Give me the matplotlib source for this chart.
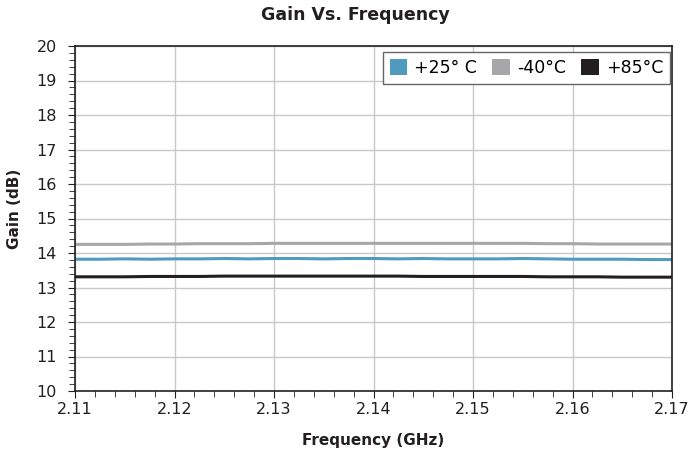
import matplotlib
matplotlib.use("Agg")
import matplotlib.pyplot as plt
from matplotlib.patches import Patch
from matplotlib.ticker import MultipleLocator, FormatStrFormatter

freq_ghz = [2.11, 2.1125, 2.115, 2.1175, 2.12, 2.1225, 2.125, 2.1275, 2.13, 2.1325,
            2.135, 2.1375, 2.14, 2.1425, 2.145, 2.1475, 2.15, 2.1525, 2.155, 2.1575,
            2.16, 2.1625, 2.165, 2.1675, 2.17]
gain_p25 = [13.82, 13.82, 13.83, 13.82, 13.83, 13.83, 13.84, 13.83, 13.84, 13.84,
            13.83, 13.84, 13.84, 13.83, 13.84, 13.83, 13.83, 13.83, 13.84, 13.83,
            13.82, 13.82, 13.82, 13.81, 13.81]
gain_m40 = [14.25, 14.25, 14.25, 14.26, 14.26, 14.27, 14.27, 14.27, 14.28, 14.28,
            14.28, 14.28, 14.28, 14.28, 14.28, 14.28, 14.28, 14.28, 14.28, 14.27,
            14.27, 14.26, 14.26, 14.26, 14.26]
gain_p85 = [13.31, 13.31, 13.31, 13.32, 13.32, 13.32, 13.33, 13.33, 13.33, 13.33,
            13.33, 13.33, 13.33, 13.33, 13.32, 13.32, 13.32, 13.32, 13.32, 13.31,
            13.31, 13.31, 13.30, 13.30, 13.30]
labels = ["+25° C", "-40°C", "+85°C"]
colors = ["#4f9bc0", "#a7a7aa", "#231f20"]

W, H = 691, 458
fig = plt.figure(figsize=(W / 100, H / 100), dpi=100)
ax = fig.add_axes([75 / W, 1 - 391 / H, (672 - 75) / W, (391 - 46) / H])

for g, c in zip([gain_p25, gain_m40, gain_p85], colors):
    ax.plot(freq_ghz, g, color=c, lw=2.2)

ax.set_xlim(2.11, 2.17)
ax.set_ylim(10, 20)
ax.xaxis.set_major_locator(MultipleLocator(0.01))
ax.xaxis.set_minor_locator(MultipleLocator(0.002))
ax.yaxis.set_major_locator(MultipleLocator(1))
ax.yaxis.set_minor_locator(MultipleLocator(0.2))
ax.xaxis.set_major_formatter(FormatStrFormatter("%.2f"))
ax.grid(True, which="major", color="#c8c8c8", lw=1)
ax.set_axisbelow(True)
for s in ax.spines.values():
    s.set_color("#231f20")
    s.set_linewidth(1.2)
ax.tick_params(which="major", direction="out", length=5, color="#231f20",
               labelsize=11.5, labelcolor="#231f20")
ax.tick_params(which="minor", direction="out", length=4, color="#231f20")
ax.tick_params(axis="x", pad=3)
ax.tick_params(axis="y", pad=8)

fig.text(373 / W, 1 - 441 / H, "Frequency (GHz)", fontsize=11, fontweight="bold",
         color="#231f20", ha="center", va="center")
fig.text(15 / W, 1 - 209 / H, "Gain (dB)", fontsize=11, fontweight="bold",
         color="#231f20", ha="center", va="center", rotation=90)
fig.text(355 / W, 1 - 15 / H, "Gain Vs. Frequency", fontsize=12.5, fontweight="bold",
         color="#231f20", ha="center", va="center")

handles = [Patch(facecolor=c, edgecolor="none") for c in colors]
leg = ax.legend(handles, labels, loc="upper right", ncol=3, fontsize=12.5,
                handlelength=1.0, handleheight=1.0, handletextpad=0.4,
                columnspacing=0.9, fancybox=False, framealpha=1,
                edgecolor="#666666", borderaxespad=0, borderpad=0.4,
                bbox_to_anchor=(1 - 2 / (672 - 75), 1 - 6 / (391 - 46)))
leg.get_frame().set_linewidth(1.0)

fig.savefig("out.png", dpi=100)
